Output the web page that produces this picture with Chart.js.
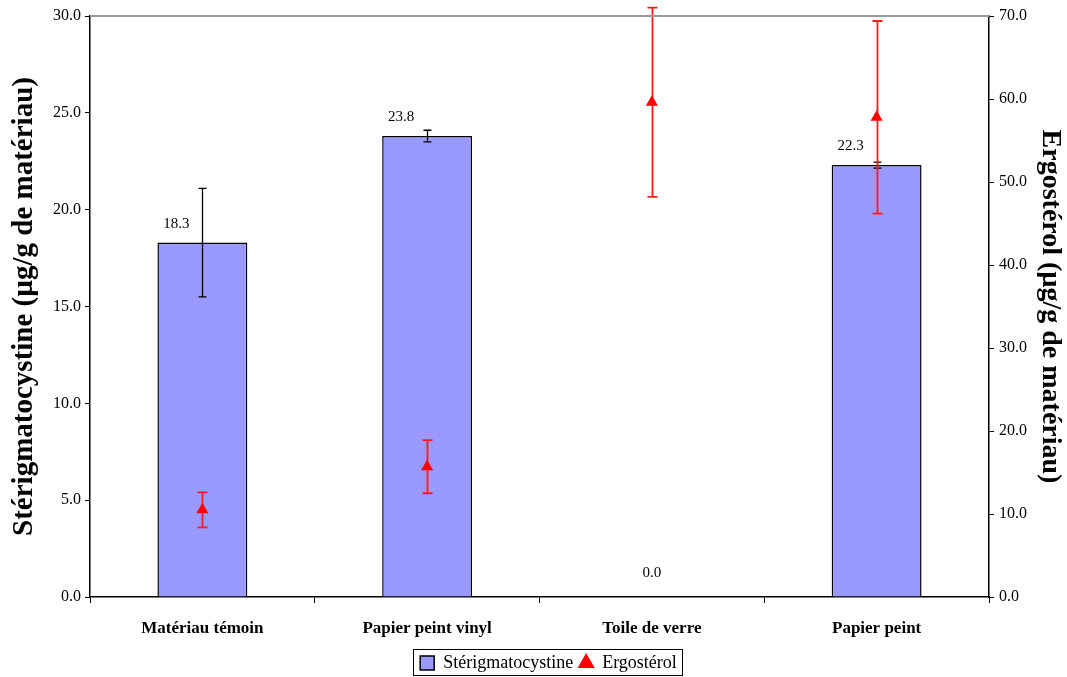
<!DOCTYPE html>
<html>
<head>
<meta charset="utf-8">
<script src="https://cdn.jsdelivr.net/npm/chart.js@4"></script>
<style>
    body { margin: 0; background: #fff; }
    #wrap { width: 1067px; height: 677px; }
</style>
</head>
<body>
<div id="wrap"><canvas id="myChart"></canvas></div>
<script>
//데이터
var categories = ["Matériau témoin", "Papier peint vinyl", "Toile de verre", "Papier peint"];
var sterigValues = [18.3, 23.8, 0.0, 22.3];
var sterigErrors = [2.8, 0.3, 0, 0.15];
var ergoValues = [10.5, 15.7, 59.6, 57.8];
var ergoErrors = [2.1, 3.2, 11.4, 11.6];
var leftTicks = [0, 5, 10, 15, 20, 25, 30];
var rightTicks = [0, 10, 20, 30, 40, 50, 60, 70];

var serif = "'Liberation Serif', 'Times New Roman', serif";
Chart.defaults.color = "#000";
Chart.defaults.font.family = serif;

//에러바 그리기
function drawErrors(chart, meta, errors, scaleId, color, cap, width) {
    var ctx = chart.ctx;
    var scale = chart.scales[scaleId];
    var values = chart.data.datasets[meta.index].data;
    ctx.save();
    ctx.strokeStyle = color;
    ctx.lineWidth = width;
    meta.data.forEach(function (el, i) {
        if (!errors[i]) return;
        var x = Math.round(el.x) + 0.5;
        var yTop = scale.getPixelForValue(values[i] + errors[i]);
        var yBot = scale.getPixelForValue(values[i] - errors[i]);
        ctx.beginPath();
        ctx.moveTo(x, yTop); ctx.lineTo(x, yBot);
        ctx.moveTo(x - cap, yTop); ctx.lineTo(x + cap, yTop);
        ctx.moveTo(x - cap, yBot); ctx.lineTo(x + cap, yBot);
        ctx.stroke();
    });
    ctx.restore();
}

var extrasPlugin = {
    id: "extras",
    afterLayout: function (chart) {
        //범례 위치 조금 오른쪽으로
        chart.legend.left += 15;
        chart.legend.right += 15;
    },
    beforeDatasetDraw: function (chart, args) {
        if (args.index === 1) {
            drawErrors(chart, args.meta, ergoErrors, "y2", "#ff1a1a", 5, 1.8);
        }
    },
    afterDatasetDraw: function (chart, args) {
        if (args.index === 0) {
            drawErrors(chart, args.meta, sterigErrors, "y", "#000", 4, 1.3);
        }
    },
    afterDatasetsDraw: function (chart) {
        var ctx = chart.ctx;
        var area = chart.chartArea;
        ctx.save();
        //위쪽 회색 선
        ctx.strokeStyle = "#999";
        ctx.lineWidth = 2;
        ctx.beginPath();
        ctx.moveTo(area.left, area.top);
        ctx.lineTo(area.right, area.top);
        ctx.stroke();
        //값 라벨
        ctx.fillStyle = "#000";
        ctx.font = "15px " + serif;
        ctx.textAlign = "center";
        ctx.textBaseline = "middle";
        var meta = chart.getDatasetMeta(0);
        meta.data.forEach(function (el, i) {
            var v = sterigValues[i];
            var dx = v > 0 ? -26 : 0;
            var dy = v > 0 ? -19 : -24;
            ctx.fillText(v.toFixed(1), el.x + dx, el.y + dy);
        });
        ctx.restore();
    },
    afterDraw: function (chart) {
        //범례 테두리
        var boxes = chart.legend.legendHitBoxes;
        if (!boxes || !boxes.length) return;
        var l = Math.min.apply(null, boxes.map(function (b) { return b.left; }));
        var r = Math.max.apply(null, boxes.map(function (b) { return b.left + b.width; }));
        var t = boxes[0].top;
        var ctx = chart.ctx;
        ctx.save();
        ctx.strokeStyle = "#000";
        ctx.lineWidth = 1;
        ctx.strokeRect(Math.round(l - 7) + 0.5, Math.round(t - 5) + 0.5, Math.round(r - l + 12), 26);
        ctx.restore();
    }
};

var ctx = document.getElementById("myChart").getContext("2d");
var myChart = new Chart(ctx, {
    type: "bar",
    data: {
        labels: categories,
        datasets: [
            {
                label: "Stérigmatocystine",
                data: sterigValues,
                backgroundColor: "#9999ff",
                borderColor: "#000",
                borderWidth: 1.5,
                barPercentage: 0.4,
                categoryPercentage: 1,
                yAxisID: "y",
                order: 1,
                pointStyle: "rect"
            },
            {
                type: "line",
                label: "Ergostérol",
                data: ergoValues,
                showLine: false,
                pointStyle: "triangle",
                pointRadius: 7,
                pointHoverRadius: 7,
                backgroundColor: "#ff0000",
                borderColor: "#ff0000",
                borderWidth: 0,
                yAxisID: "y2",
                order: 0
            }
        ]
    },
    options: {
        responsive: true,
        maintainAspectRatio: false,
        animation: false,
        layout: {
            padding: { top: 16, left: 0, right: 0, bottom: -5 }
        },
        plugins: {
            tooltip: { enabled: false },
            legend: {
                position: "bottom",
                labels: {
                    usePointStyle: true,
                    boxWidth: 14,
                    boxHeight: 14,
                    padding: 6,
                    font: { size: 18, family: serif },
                    sort: function (a, b) { return a.datasetIndex - b.datasetIndex; }
                }
            }
        },
        scales: {
            x: {
                offset: true,
                grid: {
                    offset: true,
                    drawOnChartArea: false,
                    color: "#000",
                    tickLength: 6
                },
                border: { color: "#000", width: 1.5 },
                ticks: {
                    padding: 15,
                    font: { size: 17, weight: "bold", family: serif }
                },
                afterFit: function (scale) { scale.height = 51; }
            },
            y: {
                position: "left",
                min: 0,
                max: 30,
                afterBuildTicks: function (scale) {
                    scale.ticks = leftTicks.map(function (v) { return { value: v }; });
                },
                ticks: {
                    padding: 4,
                    font: { size: 16, family: serif },
                    callback: function (v) { return Number(v).toFixed(1); }
                },
                grid: {
                    drawOnChartArea: false,
                    color: "#000",
                    tickLength: 5
                },
                border: { color: "#000", width: 1.5 },
                title: {
                    display: true,
                    text: "Stérigmatocystine (µg/g de matériau)",
                    font: { size: 29, weight: "bold", family: serif },
                    padding: { top: 7, bottom: 0 }
                },
                afterFit: function (scale) { scale.width = 90; }
            },
            y2: {
                position: "right",
                min: 0,
                max: 70,
                afterBuildTicks: function (scale) {
                    scale.ticks = rightTicks.map(function (v) { return { value: v }; });
                },
                ticks: {
                    padding: 5,
                    font: { size: 16, family: serif },
                    callback: function (v) { return Number(v).toFixed(1); }
                },
                grid: {
                    drawOnChartArea: false,
                    color: "#000",
                    tickLength: 5
                },
                border: { color: "#000", width: 1.5 },
                title: {
                    display: true,
                    text: "Ergostérol (µg/g de matériau)",
                    font: { size: 28, weight: "bold", family: serif },
                    padding: { top: 0, bottom: 0 }
                },
                afterFit: function (scale) { scale.width = 78; }
            }
        }
    },
    plugins: [extrasPlugin]
});
</script>
</body>
</html>
